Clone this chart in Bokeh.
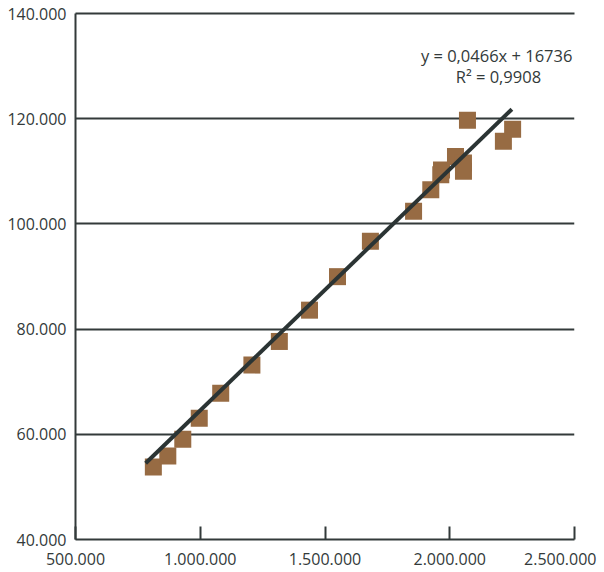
from bokeh.plotting import figure
from bokeh.models import Range1d, FixedTicker, Label, LinearAxis
from bokeh.embed import file_html
from bokeh.resources import INLINE

# ---- data ----
x_vals = [812000, 870000, 930000, 996000, 1082000, 1207000, 1317000, 1438000,
          1550000, 1682000, 1855000, 1924000, 1967000, 1964000, 2023000,
          2055000, 2055000, 2071000, 2215000, 2252000]
y_vals = [53800, 55860, 59080, 63060, 67800, 73160, 77650, 83600,
          89970, 96700, 102400, 106500, 110250, 109360, 112800,
          111570, 110000, 119700, 115700, 118000]

trend_x = [781000, 2249000]
trend_y = [54500, 121800]

x_ticks = [500000, 1000000, 1500000, 2000000, 2500000]
x_tick_labels = ["500.000", "1.000.000", "1.500.000", "2.000.000", "2.500.000"]
y_ticks = [40000, 60000, 80000, 100000, 120000, 140000]
y_tick_labels = ["40.000", "60.000", "80.000", "100.000", "120.000", "140.000"]

eq_text = "y = 0,0466x + 16736"
r2_text = "R\u00b2 = 0,9908"

# ---- styling ----
FONT = "Open Sans"
DARK = "#333a3a"
MARKER = "#976b43"
PAD = "\u2002"   # keeps the last x label inside the page

p = figure(width=604, height=572, output_backend="svg", toolbar_location=None,
           x_range=Range1d(500000, 2500000), y_range=Range1d(40000, 140000),
           min_border_left=75, min_border_right=30, min_border_top=13,
           min_border_bottom=31)
p.outline_line_color = None
p.background_fill_color = "white"
p.border_fill_color = "white"

p.xgrid.visible = False
p.ygrid.ticker = FixedTicker(ticks=y_ticks)
p.ygrid.grid_line_color = DARK
p.ygrid.grid_line_width = 2

p.xaxis.ticker = FixedTicker(ticks=x_ticks)
p.yaxis.ticker = FixedTicker(ticks=y_ticks)
for ax in (p.xaxis, p.yaxis):
    ax.axis_line_color = DARK
    ax.axis_line_width = 2
    ax.major_tick_line_color = DARK
    ax.major_tick_line_width = 2
    ax.minor_tick_line_color = None
    ax.major_tick_out = 0
    ax.major_label_text_font = FONT
    ax.major_label_text_font_size = "16px"
    ax.major_label_text_color = DARK
p.xaxis.major_tick_in = 13
p.yaxis.major_tick_in = 0
p.xaxis.major_label_standoff = 8
p.yaxis.major_label_standoff = 9

x_over = {t: lab for t, lab in zip(x_ticks, x_tick_labels)}
x_over[x_ticks[-1]] = x_tick_labels[-1] + PAD
p.xaxis.major_label_overrides = x_over
p.yaxis.major_label_overrides = {t: lab for t, lab in zip(y_ticks, y_tick_labels)}

# top border line at the 140.000 level
top = LinearAxis(ticker=FixedTicker(ticks=[]), axis_line_color=DARK,
                 axis_line_width=2, major_tick_line_color=None,
                 minor_tick_line_color=None, major_label_text_font_size="0px")
p.add_layout(top, "above")

# data
p.scatter(x_vals, y_vals, marker="square", size=17, fill_color=MARKER,
          line_color=None)
p.line(trend_x, trend_y, line_color="#2b3434", line_width=4)

p.add_layout(Label(x=2188000, y=132100, text=eq_text, text_align="center",
                   text_baseline="middle", text_font=FONT, text_font_size="16.5px",
                   text_color=DARK))
p.add_layout(Label(x=2195000, y=128000, text=r2_text, text_align="center",
                   text_baseline="middle", text_font=FONT, text_font_size="16.5px",
                   text_color=DARK))

open("out.html", "w").write(file_html(p, INLINE))
